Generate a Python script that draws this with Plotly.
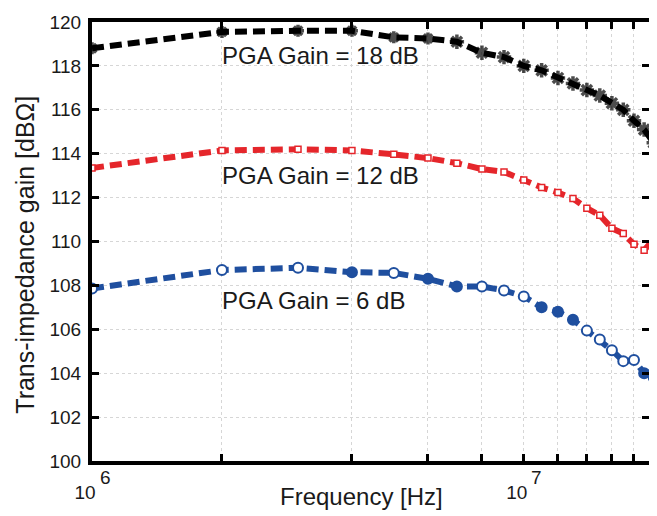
import plotly.graph_objects as go
import numpy as np

freq_mhz = [1, 2, 3, 4, 5, 6, 7, 8, 9, 10, 11, 12, 13, 14, 15, 16, 17, 18, 19, 20]
gain_18db = [118.8, 119.55, 119.6, 119.6, 119.3, 119.25, 119.1, 118.6, 118.4, 118.0,
             117.8, 117.45, 117.2, 116.9, 116.65, 116.3, 116.0, 115.5, 115.1, 114.5]
gain_12db = [113.35, 114.15, 114.2, 114.15, 113.97, 113.8, 113.57, 113.3, 113.17, 112.8,
             112.46, 112.23, 111.96, 111.52, 111.2, 110.6, 110.36, 109.87, 109.6, 110.1]
gain_6db = [107.86, 108.7, 108.8, 108.6, 108.57, 108.3, 107.95, 107.95, 107.77, 107.5,
            107.0, 106.8, 106.43, 105.94, 105.54, 105.05, 104.55, 104.6, 104.0, 103.8]
labels = ["PGA Gain = 18 dB", "PGA Gain = 12 dB", "PGA Gain = 6 dB"]
x_tick_vals = [1e6, 2e6, 4e6, 6e6, 8e6, 1e7, 1.2e7, 1.4e7, 1.6e7, 1.8e7]
x_tick_text = ["10", "", "", "", "", "10", "", "", "", ""]
decade_exponents = [6, 7]
y_tick_vals = [100, 102, 104, 106, 108, 110, 112, 114, 116, 118, 120]

freq_hz = [f * 1e6 for f in freq_mhz]

BLACK = "#000000"
RED = "#e5262b"
BLUE = "#1f4f9f"
TXT = "#1a1a1a"
FONT = "Liberation Sans, Arial, sans-serif"

# blue markers: some open (white), some filled
blue_open = [True, True, True, False, True, False, False, True, True, True,
             False, False, False, True, True, True, True, True, False, False]
blue_fill = ["white" if o else BLUE for o in blue_open]
black_sizes = [10, 10, 10, 10, 10, 10, 12, 12, 12, 12, 12, 12, 12, 12, 12, 12, 12, 12, 12, 12]

fig = go.Figure()
fig.add_trace(go.Scatter(
    x=freq_hz, y=gain_18db, mode="lines+markers",
    line=dict(color=BLACK, width=6, dash="12px,6px"),
    marker=dict(symbol="asterisk-open", size=black_sizes, color=BLACK,
                line=dict(color=BLACK, width=3.5)),
    showlegend=False))
fig.add_trace(go.Scatter(
    x=freq_hz, y=gain_12db, mode="lines+markers",
    line=dict(color=RED, width=6, dash="12px,6px"),
    marker=dict(symbol="square", size=6, color="white",
                line=dict(color=RED, width=1.5)),
    showlegend=False))
fig.add_trace(go.Scatter(
    x=freq_hz, y=gain_6db, mode="lines+markers",
    line=dict(color=BLUE, width=6, dash="12px,6px"),
    marker=dict(symbol="circle", size=10, color=blue_fill,
                line=dict(color=BLUE, width=2)),
    showlegend=False))

label_y = [118.48, 113.0, 107.3]
for txt, yv in zip(labels, label_y):
    fig.add_annotation(x=np.log10(1.98e6), y=yv, text=txt, showarrow=False,
                       xanchor="left", yanchor="middle",
                       font=dict(family=FONT, size=24, color=TXT))

# decade exponents of the "10^n" tick labels
for e in decade_exponents:
    fig.add_annotation(x=e, xref="x", y=-(478 - 461) / 448, yref="paper",
                       text=str(e), showarrow=False, xanchor="center",
                       yanchor="middle", xshift=13,
                       font=dict(family=FONT, size=19, color=TXT))

fig.add_annotation(text="Frequency [Hz]", xref="paper", yref="paper",
                   x=(363 - 92) / 561, y=-(497 - 461) / 448, showarrow=False,
                   xanchor="center", yanchor="middle",
                   font=dict(family=FONT, size=24, color=TXT))
fig.add_annotation(text="Trans-impedance gain [dBΩ]", xref="paper", yref="paper",
                   x=-(92 - 25) / 561, y=(461 - 250) / 448, showarrow=False,
                   textangle=-90, xanchor="center", yanchor="middle",
                   font=dict(family=FONT, size=25, color=TXT))

fig.update_xaxes(type="log", range=[6, np.log10(1.95e7)],
                 tickvals=x_tick_vals, ticktext=x_tick_text,
                 ticks="inside", ticklen=7, tickwidth=3, tickcolor=BLACK,
                 showline=True, linewidth=4, linecolor=BLACK, mirror="ticks",
                 showgrid=True, gridcolor="#d6d6d6", griddash="dot", gridwidth=1,
                 ticklabelstandoff=11, ticklabelshift=-7, ticklabeloverflow="allow",
                 tickfont=dict(family=FONT, size=19, color=TXT), zeroline=False)
fig.update_yaxes(range=[100, 120], tickvals=y_tick_vals,
                 ticks="inside", ticklen=7, tickwidth=3, tickcolor=BLACK,
                 showline=True, linewidth=4, linecolor=BLACK, mirror="ticks",
                 showgrid=True, gridcolor="#d6d6d6", griddash="dot", gridwidth=1,
                 ticklabelstandoff=3, ticklabeloverflow="allow",
                 tickfont=dict(family=FONT, size=19, color=TXT), zeroline=False)

# page body has an 8px margin, so the figure is shifted by 8px; compensate
fig.update_layout(width=649, height=508,
                  margin=dict(l=84, r=4, t=5, b=55),
                  plot_bgcolor="white", paper_bgcolor="white")

fig.write_html("out.html")
